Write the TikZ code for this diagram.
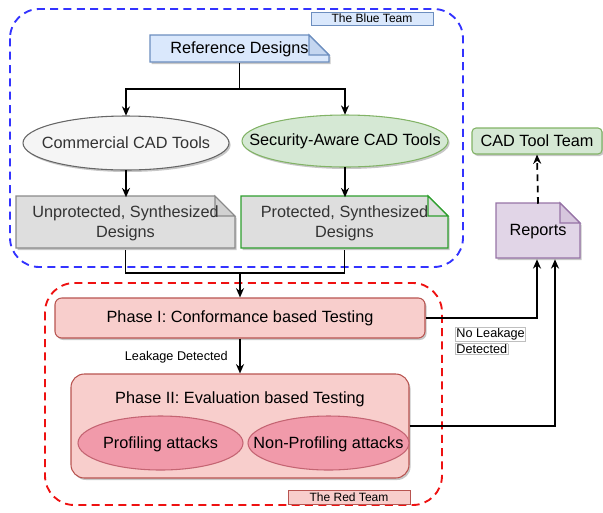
\documentclass[tikz,border=0pt]{standalone}
\usepackage{fontspec}
\setmainfont{Liberation Sans}
\usetikzlibrary{arrows.meta,shadows}

\definecolor{blueFill}{HTML}{DAE8FC}
\definecolor{blueLine}{HTML}{6C8EBF}
\definecolor{greyFill}{HTML}{F5F5F5}
\definecolor{greyLine}{HTML}{666666}
\definecolor{greenFill}{HTML}{D5E8D4}
\definecolor{greenLine}{HTML}{82B366}
\definecolor{docFill}{HTML}{DEDEDE}
\definecolor{docLine}{HTML}{8A8A8A}
\definecolor{docGreen}{HTML}{2E9E2E}
\definecolor{redFill}{HTML}{F8CECC}
\definecolor{redLine}{HTML}{B85450}
\definecolor{pinkFill}{HTML}{F19AAA}
\definecolor{pinkLine}{HTML}{C46472}
\definecolor{purpleFill}{HTML}{E1D5E7}
\definecolor{purpleLine}{HTML}{9673A6}
\definecolor{teamBlue}{HTML}{3333FF}
\definecolor{teamRed}{HTML}{EE1111}
\definecolor{txtGrey}{HTML}{333333}

\tikzset{
  shade/.style={drop shadow={shadow xshift=1.2pt,shadow yshift=-1.5pt,opacity=0.22,fill=black}},
  conn/.style={line width=1.35pt,-{Stealth[length=7pt,width=6pt]}},
  link/.style={line width=1.35pt},
  teambox/.style={line width=1.4pt,rounded corners=22pt,dash pattern=on 6pt off 4pt},
  tag/.style={draw,line width=0.6pt,inner sep=0pt,font=\fontsize{9}{10}\selectfont},
  maintext/.style={inner sep=0.75pt,align=center,font=\fontsize{12.2}{15}\selectfont},
  smalltext/.style={inner sep=0.75pt,align=left,font=\fontsize{9.5}{11}\selectfont},
}

\begin{document}
\begin{tikzpicture}[x=0.75pt,y=0.75pt,yscale=-1,xscale=1]
\useasboundingbox (0,0) rectangle (603,512);

%Shape: Blue team frame
\draw[teambox,teamBlue] (10,9) rectangle (463,267);
%Shape: Red team frame
\draw[teambox,teamRed] (45,283) rectangle (442,505);

% Team tags
\node[tag,draw=blueLine,fill=blueFill,minimum width=91.5pt,minimum height=9.75pt] (blueteam) at (372,18.5) {The Blue Team};
\node[tag,draw=redLine,fill=redFill,minimum width=91.5pt,minimum height=10.5pt] (redteam) at (349,497) {The Red Team};

%Shape: Document [Reference Designs]
\draw[shade,draw=blueLine,fill=blueFill,line width=0.8pt] (150,35) -- (309,35) -- (329,55) -- (329,62) -- (150,62) -- cycle ;
\draw[draw=blueLine,fill=blueFill!80!blueLine,line width=0.8pt] (309,35) -- (309,55) -- (329,55) -- cycle ;
\node[maintext,minimum width=134.25pt,minimum height=20.25pt] (refdes) at (239.5,49) {Reference Designs};

%Shape: Ellipse [Commercial CAD Tools]
\draw[shade,draw=greyLine,fill=greyFill,line width=0.8pt] (126,143) ellipse (103 and 27) ;
\node[maintext,text=txtGrey,minimum width=154.5pt,minimum height=40.5pt] (comm) at (126,143) {Commercial CAD Tools};
%Shape: Ellipse [Security-Aware CAD Tools]
\draw[shade,draw=greenLine,fill=greenFill,line width=0.8pt] (345,141) ellipse (103 and 26) ;
\node[maintext,minimum width=154.5pt,minimum height=39pt] (secu) at (345,141) {Security-Aware CAD Tools};

%Shape: Document [Unprotected]
\draw[shade,draw=docLine,fill=docFill,line width=0.8pt] (16,196) -- (215,196) -- (235,216) -- (235,248) -- (16,248) -- cycle ;
\draw[draw=docLine,fill=docFill!85!docLine,line width=0.8pt] (215,196) -- (215,216) -- (235,216) -- cycle ;
\node[maintext,text=txtGrey,minimum width=164.25pt,minimum height=39pt] (unprot) at (125.5,223.5) {Unprotected, Synthesized\\Designs};

%Shape: Document [Protected]
\draw[shade,draw=docGreen,fill=docFill,line width=0.8pt] (241,196) -- (428,196) -- (448,216) -- (448,248) -- (241,248) -- cycle ;
\draw[draw=docGreen,fill=docFill,line width=0.8pt] (428,196) -- (428,216) -- (448,216) -- cycle ;
\node[maintext,text=txtGrey,minimum width=155.25pt,minimum height=39pt] (prot) at (344.5,223.5) {Protected, Synthesized\\Designs};

% Phase boxes
\node[shade,draw=redLine,fill=redFill,line width=0.8pt,rounded corners=5pt,maintext,minimum width=277.5pt,minimum height=30pt] (phase1) at (240,318) {Phase I: Conformance based Testing};
\node[shade,draw=redLine,fill=redFill,line width=0.8pt,rounded corners=10pt,minimum width=253.5pt,minimum height=78pt] (phase2) at (240,426) {};
\node[maintext] (title2) at (240,399) {Phase II: Evaluation based Testing};
%Shape: Ellipse [attacks]
\draw[draw=pinkLine,fill=pinkFill,line width=0.8pt] (160.5,443) ellipse (82.5 and 27) ;
\draw[draw=pinkLine,fill=pinkFill,line width=0.8pt] (328.5,443) ellipse (80.5 and 27) ;
\node[maintext] (prof) at (160.5,444) {Profiling attacks};
\node[maintext] (nonprof) at (328.5,444) {Non-Profiling attacks};

%Shape: Document [Reports]
\draw[shade,draw=purpleLine,fill=purpleFill,line width=0.8pt] (496,203) -- (560,203) -- (580,223) -- (580,258) -- (496,258) -- cycle ;
\draw[draw=purpleLine,fill=purpleFill!85!purpleLine,line width=0.8pt] (560,203) -- (560,223) -- (580,223) -- cycle ;
\node[maintext,minimum width=63pt,minimum height=41.25pt] (reports) at (538,231.5) {Reports};

% CAD tool team
\node[shade,draw=greenLine,fill=greenFill,line width=0.8pt,rounded corners=3pt,maintext,minimum width=97.5pt,minimum height=19.5pt] (cadteam) at (537,141) {CAD Tool Team};

% Connectors
\draw[conn] (refdes.south) -- ++(0,26) -| (comm.north);
\draw[conn] (refdes.south) -- ++(0,26) -| (secu.north);
\draw[conn] (comm.south) -- (comm.south |- unprot.north);
\draw[conn] (secu.south) -- (secu.south |- prot.north);
\coordinate (merge) at (240,273);
\draw[link] (unprot.south) |- (merge) -| (prot.south);
\draw[conn] (merge) -- (phase1.north);
\draw[conn] (phase1.south) -- (phase2.north);
\draw[conn] (phase1.east) -| ([xshift=-0.75pt]reports.south);
\draw[conn] (phase2.east) -| ([xshift=12.75pt]reports.south);
\draw[conn,dash pattern=on 5pt off 3.5pt] (reports.north) -- (cadteam.south);

% Text Node
\node[smalltext,anchor=east] (leaklbl) at (229,357) {Leakage Detected};
% Text Node
\node[smalltext,anchor=north west,inner sep=0pt] (noleak) at (455,327) {\setlength{\fboxsep}{0.5pt}\setlength{\fboxrule}{0.4pt}\fcolorbox{lightgray}{white}{No Leakage}\\[1pt]\setlength{\fboxsep}{0.5pt}\setlength{\fboxrule}{0.4pt}\fcolorbox{lightgray}{white}{Detected}};
\end{tikzpicture}
\end{document}
